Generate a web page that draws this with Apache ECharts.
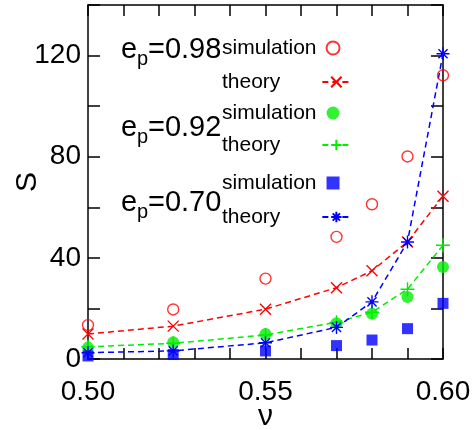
<!DOCTYPE html>
<html><head><meta charset="utf-8">
<script src="https://cdn.jsdelivr.net/npm/echarts@6/dist/echarts.min.js"></script>
<style>html,body{margin:0;padding:0;background:#fff;}#c{width:474px;height:430px;}</style>
</head><body><div id="c"></div>
<script>
const nu = [0.50, 0.524, 0.55, 0.57, 0.58, 0.59, 0.60];
const sim098 = [13.4, 19.6, 31.8, 48.3, 61.2, 80.1, 112.2];
const th098 = [9.9, 13.0, 19.7, 28.2, 34.9, 46.3, 64.4];
const sim092 = [4.5, 6.6, 9.9, 14.1, 17.9, 24.5, 36.4];
const th092 = [4.8, 6.2, 9.5, 14.5, 18.5, 27.6, 45.0];
const sim070 = [1.2, 1.8, 3.2, 5.3, 7.5, 12.0, 22.0];
const th070 = [2.5, 3.2, 6.4, 12.5, 22.6, 46.3, 120.7];
const yTickLabels = [0, 40, 80, 120];
const xTickLabels = ['0.50', '0.55', '0.60'];
const groupLabels = ['0.98', '0.92', '0.70'];

const RED = '#ff0000', GREEN = '#00ee00', BLUE = '#0000ff';
const FONT = 'Liberation Sans, Arial, sans-serif';
const pairs = a => nu.map((x, i) => [x, a[i]]);

const crossPath = 'path://M0,0L10,10M10,0L0,10';
const plusPath = 'path://M5,0L5,10M0,5L10,5';
const starPath = 'path://M5,0L5,10M0,5L10,5M1.5,1.5L8.5,8.5M8.5,1.5L1.5,8.5';

function sim(name, data, color, symbol, size, empty) {
  return {
    name, type: 'scatter', data: pairs(data), symbol, symbolSize: size, clip: false,
    itemStyle: empty ? {color: 'transparent', borderColor: color, borderWidth: 1.4} : {color: color},
    z: 3
  };
}
function th(name, data, color, symbol, size) {
  return {
    name, type: 'line', data: pairs(data), symbol, symbolSize: size, showSymbol: true, clip: false,
    lineStyle: {color: color, width: 1.5, type: [6, 4]},
    itemStyle: {color: color, borderColor: color, borderWidth: 1.4},
    z: 3
  };
}

const legendNames = {s98:'simulation', t98:'theory', s92:'simulation', t92:'theory', s70:'simulation', t70:'theory'};
function leg(name, top, w, padRight) {
  return {
    data: [name], left: 222, top: top, align: 'right', selectedMode: false,
    itemWidth: w, itemHeight: 13, padding: 0,
    formatter: n => legendNames[n],
    textStyle: {fontFamily: FONT, fontSize: 21, color: '#000', lineHeight: 22, padding: [0, padRight, 0, 0]}
  };
}

function epLabel(val, cy) {
  return {
    type: 'group', left: 121, top: cy - 16,
    children: [
      {type: 'text', x: 0, y: 0, style: {text: 'e', font: '29px ' + FONT, fill: '#000'}},
      {type: 'text', x: 16, y: 14, style: {text: 'p', font: '20px ' + FONT, fill: '#000'}},
      {type: 'text', x: 27, y: 0, style: {text: '=' + val, font: '29px ' + FONT, fill: '#000'}}
    ]
  };
}

function axLine() { return {show: true, onZero: false, lineStyle: {color: '#000', width: 1.5}}; }
function tick(len, inside) { return {show: true, inside: inside, length: len, lineStyle: {color: '#000', width: 1.5}}; }
const chart = echarts.init(document.getElementById('c'));
chart.setOption({
  animation: false,
  backgroundColor: '#fff',
  grid: [
    {left: 88, right: 31, top: 5, bottom: 71, containLabel: false, outerBoundsMode: 'none'},
    {left: 88, right: 31, top: 5, height: 11, containLabel: false, outerBoundsMode: 'none'}
  ],
  xAxis: [{
    type: 'value', min: 0.5, max: 0.6, interval: 0.01, position: 'bottom', gridIndex: 0,
    name: 'ν', nameLocation: 'middle', nameGap: 43, nameMoveOverlap: false,
    nameTextStyle: {fontFamily: FONT, fontSize: 30, color: '#000'},
    axisLine: axLine(), axisTick: tick(11, true),
    axisLabel: {fontFamily: FONT, fontSize: 28, color: '#000', margin: 19,
      formatter: v => { const s = v.toFixed(2); return xTickLabels.includes(s) ? s : ''; }},
    splitLine: {show: false}
  }, {
    type: 'value', min: 0.5, max: 0.6, interval: 0.01, position: 'top', gridIndex: 0,
    axisLine: axLine(), axisTick: {show: false},
    axisLabel: {show: false}, splitLine: {show: false}
  }, {
    type: 'value', min: 0.5, max: 0.6, interval: 0.01, position: 'bottom', gridIndex: 1,
    axisLine: {show: false, onZero: false}, axisTick: {show: false},
    axisLabel: {show: false},
    splitLine: {show: true, lineStyle: {color: '#000', width: 1.5}}
  }],
  yAxis: [{
    type: 'value', min: 0, max: 140, interval: 20, position: 'left', gridIndex: 0,
    name: 'S', nameLocation: 'middle', nameGap: 45, nameRotate: 90, nameMoveOverlap: false,
    nameTextStyle: {fontFamily: FONT, fontSize: 30, color: '#000'},
    axisLine: axLine(), axisTick: tick(12, true),
    axisLabel: {fontFamily: FONT, fontSize: 28, color: '#000', margin: 7,
      formatter: v => yTickLabels.includes(v) ? String(v) : ''},
    splitLine: {show: false}
  }, {
    type: 'value', min: 0, max: 140, interval: 20, position: 'right', gridIndex: 0,
    axisLine: axLine(), axisTick: tick(-12, false),
    axisLabel: {show: false}, splitLine: {show: false}
  }, {
    type: 'value', min: 0, max: 1, gridIndex: 1, show: false
  }],
  legend: [
    leg('s98', 37, 13, 5), leg('t98', 71, 28, 37),
    leg('s92', 102, 13, 5), leg('t92', 134, 28, 37),
    leg('s70', 172, 13, 5), leg('t70', 206, 28, 37)
  ],
  graphic: [
    epLabel(groupLabels[0], 51),
    epLabel(groupLabels[1], 129),
    epLabel(groupLabels[2], 204)
  ],
  series: [
    sim('s98', sim098, RED, 'circle', 11, true),
    th('t98', th098, RED, crossPath, 11),
    sim('s92', sim092, GREEN, 'circle', 12, false),
    th('t92', th092, GREEN, plusPath, 14),
    sim('s70', sim070, BLUE, 'rect', 11, false),
    th('t70', th070, BLUE, starPath, 13)
  ]
});
</script></body></html>
